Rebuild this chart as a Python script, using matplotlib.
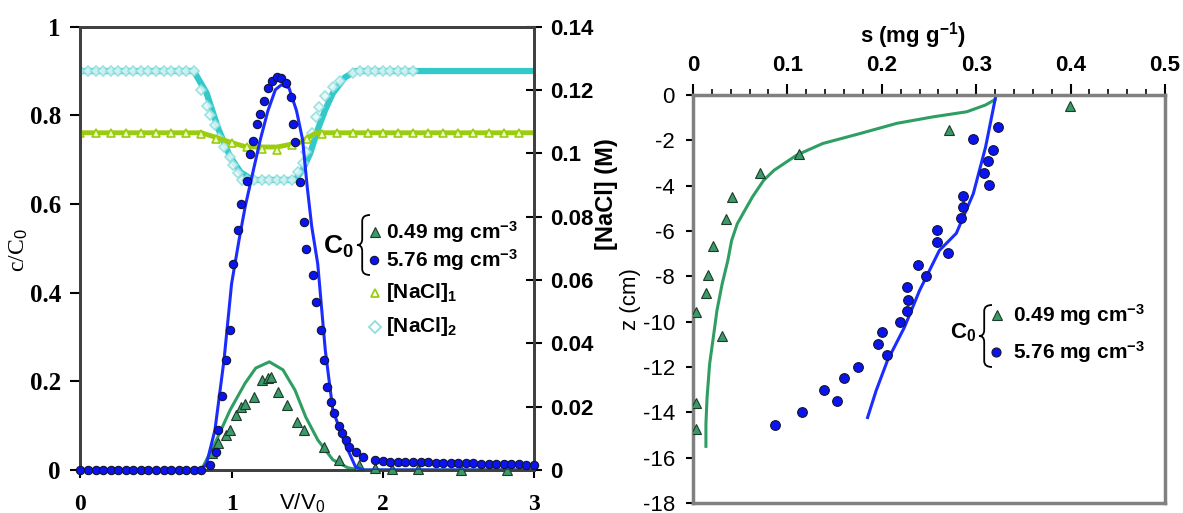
import matplotlib

matplotlib.use("Agg")
import matplotlib.pyplot as plt
from matplotlib.lines import Line2D
from matplotlib.patches import PathPatch
from matplotlib.path import Path
from matplotlib.ticker import MultipleLocator

plt.rcParams["font.family"] = ["Liberation Sans", "DejaVu Sans"]
plt.rcParams["axes.unicode_minus"] = False
plt.rcParams["mathtext.fontset"] = "custom"
plt.rcParams["mathtext.rm"] = "Liberation Sans"
plt.rcParams["mathtext.it"] = "Liberation Sans:italic"
plt.rcParams["mathtext.bf"] = "Liberation Sans:bold"

W, H = 1183, 513

# ---------------- left panel: breakthrough curves (c/C0 and [NaCl] vs V/V0)
# C0 = 5.76 mg cm-3, data
HIGH_V = [0, 0.05, 0.1, 0.15, 0.2, 0.25, 0.3, 0.35, 0.4, 0.45, 0.5, 0.55, 0.6,
          0.65, 0.7, 0.75, 0.8, 0.86, 0.90, 0.91, 0.94, 0.96, 0.99, 1.01, 1.04,
          1.063, 1.10, 1.125, 1.14, 1.165, 1.19, 1.215, 1.24, 1.27, 1.30, 1.33,
          1.36, 1.39, 1.405, 1.42, 1.455, 1.48, 1.49, 1.54, 1.56, 1.59, 1.61,
          1.63, 1.66, 1.68, 1.71, 1.73, 1.76, 1.78, 1.82, 1.87, 1.95, 2.0, 2.05,
          2.1, 2.15, 2.2, 2.25, 2.3, 2.35, 2.4, 2.45, 2.5, 2.55, 2.6, 2.65, 2.7,
          2.75, 2.8, 2.85, 2.9, 2.95, 3.0]
HIGH_C = [0, 0, 0, 0, 0, 0, 0, 0, 0, 0, 0, 0, 0,
          0, 0, 0, 0, 0.011, 0.041, 0.09, 0.167, 0.248, 0.316, 0.465, 0.541,
          0.599, 0.653, 0.713, 0.743, 0.781, 0.803, 0.833, 0.862, 0.878, 0.887, 0.884,
          0.872, 0.841, 0.781, 0.739, 0.649, 0.559, 0.499, 0.44, 0.38, 0.316, 0.248,
          0.187, 0.153, 0.128, 0.10, 0.083, 0.068, 0.053, 0.041, 0.03, 0.023, 0.02, 0.019,
          0.019, 0.018, 0.018, 0.017, 0.017, 0.016, 0.016, 0.016, 0.015, 0.015, 0.015, 0.014, 0.014,
          0.014, 0.013, 0.013, 0.013, 0.012, 0.012]
# C0 = 5.76 mg cm-3, model
HIGH_FIT_V = [0, 0.80, 0.835, 0.89, 0.95, 1.0, 1.05, 1.09, 1.14, 1.19, 1.24, 1.29,
              1.33, 1.38, 1.43, 1.47, 1.50, 1.53, 1.57, 1.62, 1.67, 1.75, 1.82,
              1.87, 3.0]
HIGH_FIT_C = [0, 0, 0.015, 0.09, 0.248, 0.42, 0.52, 0.594, 0.67, 0.745, 0.81, 0.858,
              0.869, 0.862, 0.81, 0.745, 0.64, 0.55, 0.465, 0.27, 0.135, 0.06, 0.007,
              0, 0]
# C0 = 0.49 mg cm-3, data
LOW_V = [0.87, 0.91, 0.96, 0.99, 1.03, 1.06, 1.09, 1.15, 1.20, 1.24, 1.26, 1.31,
         1.37, 1.43, 1.48, 1.61, 1.71, 1.84, 1.95, 2.06, 2.23, 2.52, 2.82]
LOW_C = [0.038, 0.06, 0.079, 0.09, 0.124, 0.142, 0.15, 0.165, 0.203, 0.207, 0.21, 0.176,
         0.147, 0.108, 0.09, 0.052, 0.023, 0.011, 0.005, 0.002, 0.002, 0.0, 0.0]
# C0 = 0.49 mg cm-3, model
LOW_FIT_V = [0, 0.80, 0.89, 0.99, 1.09, 1.16, 1.25, 1.34, 1.42, 1.49, 1.57, 1.67,
             1.77, 1.85, 3.0]
LOW_FIT_C = [0, 0, 0.06, 0.135, 0.196, 0.23, 0.244, 0.226, 0.18, 0.12, 0.068, 0.023,
             0.005, 0, 0]

# [NaCl]1 (M)
NACL1_V = [0, 0.1, 0.2, 0.3, 0.4, 0.5, 0.6, 0.7, 0.8, 0.9, 1.0, 1.1, 1.2, 1.3, 1.4,
           1.5, 1.6, 1.7, 1.8, 1.9, 2.0, 2.1, 2.2, 2.3, 2.4, 2.5, 2.6, 2.7, 2.8, 2.9]
NACL1_M = [0.1065, 0.1065, 0.1065, 0.1065, 0.1065, 0.1065, 0.1065, 0.1065, 0.106,
           0.1045, 0.1032, 0.102, 0.1015, 0.101, 0.1025, 0.1045, 0.1062, 0.1065,
           0.1065, 0.1065, 0.1065, 0.1065, 0.1065, 0.1065, 0.1065, 0.1065, 0.1065,
           0.1065, 0.1065, 0.1065]
NACL1_FIT_V = [0, 0.8, 0.9, 1.0, 1.1, 1.3, 1.45, 1.56, 3.0]
NACL1_FIT_M = [0.1065, 0.1065, 0.105, 0.1034, 0.102, 0.102, 0.1034, 0.1065, 0.1065]

# [NaCl]2 (M)
NACL2_V = [0, 0.05, 0.1, 0.15, 0.2, 0.25, 0.3, 0.35, 0.4, 0.45, 0.5, 0.55, 0.6, 0.65,
           0.7, 0.75, 0.8, 0.835, 0.86, 0.89, 0.92, 0.95, 0.99, 1.01, 1.04, 1.07, 1.1,
           1.15, 1.2, 1.25, 1.3, 1.35, 1.4, 1.44, 1.47, 1.49, 1.53, 1.56, 1.58, 1.62,
           1.67, 1.72, 1.8, 1.85, 1.9, 1.95, 2.0, 2.05, 2.1, 2.15, 2.2]
NACL2_M = [0.126, 0.126, 0.126, 0.126, 0.126, 0.126, 0.126, 0.126, 0.126, 0.126,
           0.126, 0.126, 0.126, 0.126, 0.126, 0.126, 0.120, 0.115, 0.112, 0.109, 0.105,
           0.102, 0.099, 0.0964, 0.0939, 0.0916, 0.0916, 0.0916, 0.0916, 0.0916, 0.0916,
           0.0916, 0.0916, 0.094, 0.097, 0.1005, 0.1065, 0.1116, 0.1147, 0.118, 0.121,
           0.123, 0.1255, 0.126, 0.126, 0.126, 0.126, 0.126, 0.126, 0.126, 0.126]
NACL2_FIT_V = [0, 0.75, 0.835, 0.91, 0.99, 1.06, 1.14, 1.42, 1.47, 1.52, 1.57, 1.62,
               1.67, 1.75, 1.82, 3.0]
NACL2_FIT_M = [0.126, 0.126, 0.119, 0.108, 0.099, 0.094, 0.0916, 0.0916, 0.0948, 0.1,
               0.1075, 0.1138, 0.119, 0.124, 0.126, 0.126]

# ---------------- right panel: retained profile s vs depth z
HIGH_S = [0.323, 0.297, 0.318, 0.313, 0.308, 0.314, 0.286, 0.286, 0.284, 0.259, 0.259,
          0.27, 0.2385, 0.2464, 0.227, 0.228, 0.227, 0.219, 0.2, 0.196, 0.206, 0.175,
          0.160, 0.139, 0.153, 0.116, 0.087]
HIGH_Z = [-1.43, -1.92, -2.43, -2.92, -3.42, -3.95, -4.47, -4.94, -5.43, -5.94, -6.49,
          -6.96, -7.48, -8.0, -8.48, -9.04, -9.54, -10.0, -10.47, -10.99, -11.47, -12.02,
          -12.5, -13.02, -13.5, -13.98, -14.56]
HIGH_FIT_S = [0.321, 0.31, 0.297, 0.279, 0.261, 0.24, 0.224, 0.206, 0.194, 0.185]
HIGH_FIT_Z = [0, -2.29, -4.35, -6.1, -6.86, -8.63, -10.25, -11.72, -13.05, -14.23]

LOW_S = [0.399, 0.271, 0.112, 0.0707, 0.041, 0.035, 0.0216, 0.0157, 0.0138, 0.003,
         0.031, 0.003, 0.003]
LOW_Z = [-0.49, -1.55, -2.6, -3.46, -4.5, -5.46, -6.67, -7.92, -8.75, -9.56, -10.65,
         -13.57, -14.72]
LOW_FIT_S = [0.32, 0.310, 0.290, 0.255, 0.216, 0.177, 0.1375, 0.110, 0.086, 0.075,
             0.063, 0.055, 0.047, 0.041, 0.037, 0.031, 0.0255, 0.0216, 0.0177, 0.015,
             0.0138, 0.0138]
LOW_FIT_Z = [-0.2, -0.44, -0.74, -0.96, -1.25, -1.7, -2.14, -2.65, -3.32, -3.76, -4.5,
             -5.09, -5.68, -6.42, -7.3, -8.33, -9.5, -10.7, -11.87, -13.35, -14.5, -15.5]

V_TICKS = [0, 1, 2, 3]
C_TICKS = [0, 0.2, 0.4, 0.6, 0.8, 1]
NACL_TICKS = [0, 0.02, 0.04, 0.06, 0.08, 0.1, 0.12, 0.14]
S_TICKS = [0, 0.1, 0.2, 0.3, 0.4, 0.5]
Z_TICKS = [-18, -16, -14, -12, -10, -8, -6, -4, -2, 0]

BLUE = "#0a14f0"
BLUE_LINE = "#1a2cff"
GREEN = "#3a9a68"
GREEN_LINE = "#2f9e62"
YGREEN = "#9ccc10"
CYAN = "#33c9c9"
CYAN_PALE = "#8ddede"


def px(x, y):
    """pixel position (from top-left) -> figure fraction"""
    return x / W, 1 - y / H


def brace(fig, x_tip, x_end, y_top, y_bot, r=6):
    xs = x_tip + 0.4 * (x_end - x_tip)
    ym = (y_top + y_bot) / 2
    pts = [(x_end, y_top), (xs, y_top), (xs, y_top + r), (xs, ym - r), (xs, ym),
           (x_tip, ym), (xs, ym), (xs, ym + r), (xs, y_bot - r), (xs, y_bot),
           (x_end, y_bot)]
    codes = [Path.MOVETO, Path.CURVE3, Path.CURVE3, Path.LINETO, Path.CURVE3,
             Path.CURVE3, Path.CURVE3, Path.CURVE3, Path.LINETO, Path.CURVE3,
             Path.CURVE3]
    path = Path([px(*p) for p in pts], codes)
    fig.add_artist(PathPatch(path, transform=fig.transFigure, fill=False,
                             lw=1.3, edgecolor="black"))


def marker(fig, x, y, **kw):
    fx, fy = px(x, y)
    fig.add_artist(Line2D([fx], [fy], transform=fig.transFigure, linestyle="none", **kw))


def label(fig, x, y, s, **kw):
    fx, fy = px(x, y)
    fig.text(fx, fy, s, va="center", fontweight="bold", **kw)


fig = plt.figure(figsize=(W / 100, H / 100), dpi=100)

# ---------------- left panel
ax = fig.add_axes([80.4 / W, 1 - 470 / H, 453.5 / W, 443.3 / H])
ax2 = ax.twinx()
ax.set_zorder(ax2.get_zorder() + 1)
ax.patch.set_visible(False)

ax2.plot(NACL2_FIT_V, NACL2_FIT_M, color=CYAN, lw=4.5, zorder=1)
ax2.plot(NACL2_V, NACL2_M, linestyle="none", marker="D", ms=5.5, mfc="#e6f8f8",
         mec=CYAN_PALE, mew=1.2, alpha=0.85, zorder=2)
ax2.plot(NACL1_FIT_V, NACL1_FIT_M, color=YGREEN, lw=3.5, zorder=3)
ax2.plot(NACL1_V, NACL1_M, linestyle="none", marker="^", ms=5.5, mfc="#eef7cc",
         mec=YGREEN, mew=1.2, zorder=4)
ax2.set_ylim(0, 0.14)
ax2.set_yticks(NACL_TICKS, [f"{v:g}" for v in NACL_TICKS], fontsize=16,
               fontweight="bold")
ax2.tick_params(axis="y", direction="inout", length=12, width=1.5, pad=6)
ax2.set_ylabel("[NaCl] (M)", fontsize=17, fontweight="bold")
ax2.yaxis.set_label_coords(1.135, 0.623)

ax.plot(LOW_FIT_V, LOW_FIT_C, color=GREEN_LINE, lw=2.2, zorder=2)
ax.plot(LOW_V, LOW_C, linestyle="none", marker="^", ms=6.5, mfc=GREEN,
        mec="#1e3a2a", mew=0.8, zorder=3, clip_on=False)
ax.plot(HIGH_FIT_V, HIGH_FIT_C, color=BLUE_LINE, lw=2.2, zorder=4)
ax.plot(HIGH_V, HIGH_C, linestyle="none", marker="o", ms=6, mfc=BLUE,
        mec="#151530", mew=0.8, zorder=5, clip_on=False)

ax.set_xlim(0, 3)
ax.set_ylim(0, 1)
ax.set_xticks(V_TICKS, [f"{v:g}" for v in V_TICKS], fontsize=17,
              fontweight="bold", fontfamily="Liberation Serif")
ax.set_yticks(C_TICKS, [f"{v:g}" for v in C_TICKS], fontsize=18,
              fontweight="bold", fontfamily="Liberation Serif")
ax.tick_params(axis="x", direction="out", length=6, width=1.5, pad=11)
ax.tick_params(axis="y", direction="out", length=7, width=1.5, pad=7)
ax.text(0.489, -0.075, "V/V$_0$", transform=ax.transAxes, ha="center",
        va="center", fontsize=16)
ax.set_ylabel("c/C$_0$", fontsize=17, fontfamily="Liberation Serif")
ax.yaxis.set_label_coords(-0.112, 0.496)
for a in (ax, ax2):
    for sp in a.spines.values():
        sp.set_color("#404040")
        sp.set_linewidth(2)

# legend of the left panel
brace(fig, 357, 370, 215, 275)
label(fig, 354, 247, r"C$_\mathbf{0}$", fontsize=19, ha="right")
marker(fig, 375, 232, marker="^", ms=6.5, mfc=GREEN, mec="#1e3a2a", mew=0.8)
marker(fig, 374, 260, marker="o", ms=6, mfc=BLUE, mec="#151530", mew=0.8)
marker(fig, 375, 293, marker="^", ms=6, mfc="white", mec=YGREEN, mew=1.3)
marker(fig, 375, 327, marker="D", ms=6, mfc="white", mec=CYAN_PALE, mew=1.3)
label(fig, 386, 232, r"0.49 mg cm$^\mathbf{-3}$", fontsize=15)
label(fig, 386, 260, r"5.76 mg cm$^\mathbf{-3}$", fontsize=15)
label(fig, 386, 293, r"[NaCl]$_\mathbf{1}$", fontsize=15)
label(fig, 386, 327, r"[NaCl]$_\mathbf{2}$", fontsize=15)

# ---------------- right panel
ax3 = fig.add_axes([692.9 / W, 1 - 503 / H, 472.1 / W, 408 / H])
ax3.plot(LOW_FIT_S, LOW_FIT_Z, color=GREEN_LINE, lw=2.2, zorder=2)
ax3.plot(HIGH_FIT_S, HIGH_FIT_Z, color=BLUE_LINE, lw=2.2, zorder=2)
ax3.plot(LOW_S, LOW_Z, linestyle="none", marker="^", ms=7, mfc=GREEN,
         mec="#1e3a2a", mew=0.8, zorder=3)
ax3.plot(HIGH_S, HIGH_Z, linestyle="none", marker="o", ms=7, mfc=BLUE,
         mec="#151530", mew=0.8, zorder=3)
ax3.set_xlim(0, 0.5)
ax3.set_ylim(-18, 0)
ax3.xaxis.tick_top()
ax3.set_xticks(S_TICKS, [f"{v:g}" for v in S_TICKS], fontsize=16, fontweight="bold")
ax3.xaxis.set_minor_locator(MultipleLocator(0.02))
ax3.set_yticks(Z_TICKS, [f"{v:g}" for v in Z_TICKS], fontsize=16)
ax3.tick_params(axis="x", which="major", direction="out", length=8, width=1.5, pad=6)
ax3.tick_params(axis="x", which="minor", direction="out", length=4, width=1.2)
ax3.tick_params(axis="y", direction="out", length=5, width=1.5, pad=8)
ax3.text(0.466, 1.145, "s (mg g$^\\mathbf{-1}$)", transform=ax3.transAxes,
         ha="center", va="center", fontsize=16, fontweight="bold")
ax3.set_ylabel("z (cm)", fontsize=16)
ax3.yaxis.set_label_coords(-0.11, 0.5)
for sp in ax3.spines.values():
    sp.set_color("#808080")
    sp.set_linewidth(2.5)

# legend of the right panel
brace(fig, 979, 992, 305, 367)
label(fig, 976, 333, r"C$_\mathbf{0}$", fontsize=16, ha="right")
marker(fig, 997, 315, marker="^", ms=6.5, mfc=GREEN, mec="#1e3a2a", mew=0.8)
marker(fig, 996, 352, marker="o", ms=6.5, mfc=BLUE, mec="#151530", mew=0.8)
label(fig, 1013, 315, r"0.49 mg cm$^\mathbf{-3}$", fontsize=15)
label(fig, 1013, 352, r"5.76 mg cm$^\mathbf{-3}$", fontsize=15)

fig.savefig("out.png", dpi=100)
